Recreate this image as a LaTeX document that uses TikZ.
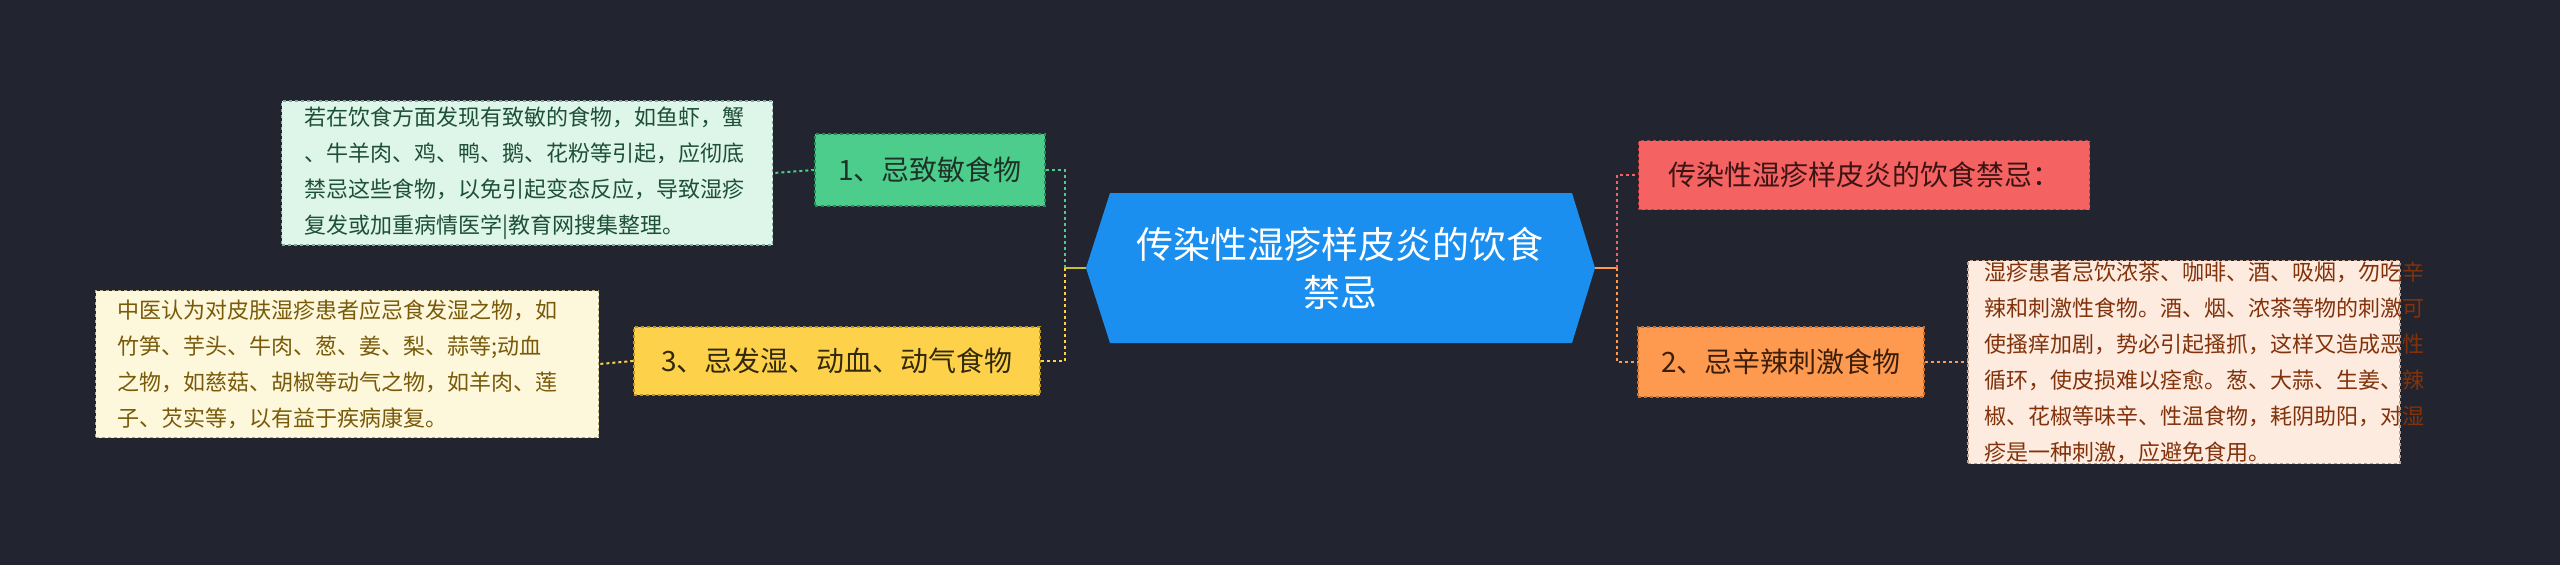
\documentclass[tikz,border=0pt]{standalone}
\usepackage{fontspec}
\setmainfont{Noto Sans CJK SC}
\begin{document}
\begin{tikzpicture}[x=1pt,y=-1pt,
  box/.style={draw,dashed,line width=1.5pt,inner sep=0pt,anchor=north west,align=left},
  small/.style={font=\fontsize{22}{36}\selectfont},
  big/.style={font=\fontsize{28}{34}\selectfont},
  link/.style={dashed,line width=2pt}]
\fill[fill={rgb,255:red,34;green,37;blue,48}] (0,0) rectangle (2560,565);
\useasboundingbox (0,0) rectangle (2560,565);
% center
\fill[fill={rgb,255:red,27;green,143;blue,240}] (1086,268) -- (1110,193) -- (1572,193) -- (1595,268) -- (1572,343) -- (1110,343) -- cycle;
\node[align=center,text=white,font=\fontsize{37}{48}\selectfont] (c) at (1340,268) {传染性湿疹样皮炎的饮食\\禁忌};
\coordinate (cl) at (1086,268);
\coordinate (cr) at (1595,268);
\coordinate (jl) at (1065,268);
\coordinate (jr) at (1617,268);
% left nodes
\node[box,big,fill={rgb,255:red,76;green,205;blue,139},draw={rgb,255:red,40;green,140;blue,90},text={rgb,255:red,30;green,50;blue,40},minimum width=230,minimum height=72,align=center,anchor=center] (n1) at (930,170) {1、忌致敏食物};
\node[box,big,fill={rgb,255:red,253;green,210;blue,74},draw={rgb,255:red,190;green,150;blue,30},text={rgb,255:red,50;green,40;blue,10},minimum width=406,minimum height=68,align=center,anchor=center] (n3) at (837,361) {3、忌发湿、动血、动气食物};
\node[box,small,fill={rgb,255:red,222;green,245;blue,233},draw={rgb,255:red,130;green,170;blue,150},text={rgb,255:red,30;green,80;blue,55},minimum width=491,minimum height=144,text width=445,align=left,anchor=center] (t1) at (527,173) {若在饮食方面发现有致敏的食物，如鱼虾，蟹\\、牛羊肉、鸡、鸭、鹅、花粉等引起，应彻底\\禁忌这些食物，以免引起变态反应，导致湿疹\\复发或加重病情医学|教育网搜集整理。};
\node[box,small,fill={rgb,255:red,253;green,247;blue,220},draw={rgb,255:red,180;green,170;blue,130},text={rgb,255:red,120;green,90;blue,10},minimum width=503,minimum height=147,text width=460,align=left,anchor=center] (t3) at (347,364) {中医认为对皮肤湿疹患者应忌食发湿之物，如\\竹笋、芋头、牛肉、葱、姜、梨、蒜等;动血\\之物，如慈菇、胡椒等动气之物，如羊肉、莲\\子、芡实等，以有益于疾病康复。};
% right nodes
\node[box,big,fill={rgb,255:red,245;green,98;blue,98},draw={rgb,255:red,190;green,60;blue,60},text={rgb,255:red,60;green,20;blue,20},minimum width=451,minimum height=69,align=center,anchor=center] (r1) at (1864,175) {传染性湿疹样皮炎的饮食禁忌：};
\node[box,big,fill={rgb,255:red,253;green,154;blue,80},draw={rgb,255:red,200;green,110;blue,40},text={rgb,255:red,60;green,30;blue,10},minimum width=286,minimum height=70,align=center,anchor=center] (r2) at (1781,362) {2、忌辛辣刺激食物};
\node[box,small,fill={rgb,255:red,253;green,235;blue,224},draw={rgb,255:red,190;green,160;blue,140},text={rgb,255:red,130;green,50;blue,10},minimum width=432,minimum height=203,text width=400,align=left,anchor=center] (t2) at (2184,362) {湿疹患者忌饮浓茶、咖啡、酒、吸烟，勿吃辛\\辣和刺激性食物。酒、烟、浓茶等物的刺激可\\使搔痒加剧，势必引起搔抓，这样又造成恶性\\循环，使皮损难以痊愈。葱、大蒜、生姜、辣\\椒、花椒等味辛、性温食物，耗阴助阳，对湿\\疹是一种刺激，应避免食用。};
% connectors
\draw[line width=2.5pt,draw={rgb,255:red,200;green,190;blue,60}] (cl) -- (jl);
\draw[line width=2.5pt,draw={rgb,255:red,253;green,154;blue,80}] (cr) -- (jr);
\draw[link,draw={rgb,255:red,76;green,205;blue,139}] (jl) |- (n1.east);
\draw[link,draw={rgb,255:red,253;green,210;blue,74}] (jl) |- (n3.east);
\draw[link,draw={rgb,255:red,245;green,98;blue,98}] (jr) |- (r1.west);
\draw[link,draw={rgb,255:red,253;green,154;blue,80}] (jr) |- (r2.west);
\draw[link,draw={rgb,255:red,76;green,205;blue,139}] (n1.west) -- (t1.east);
\draw[link,draw={rgb,255:red,253;green,210;blue,74}] (n3.west) -- (t3.east);
\draw[link,draw={rgb,255:red,253;green,154;blue,80}] (r2.east) -- (t2.west);
\end{tikzpicture}
\end{document}
